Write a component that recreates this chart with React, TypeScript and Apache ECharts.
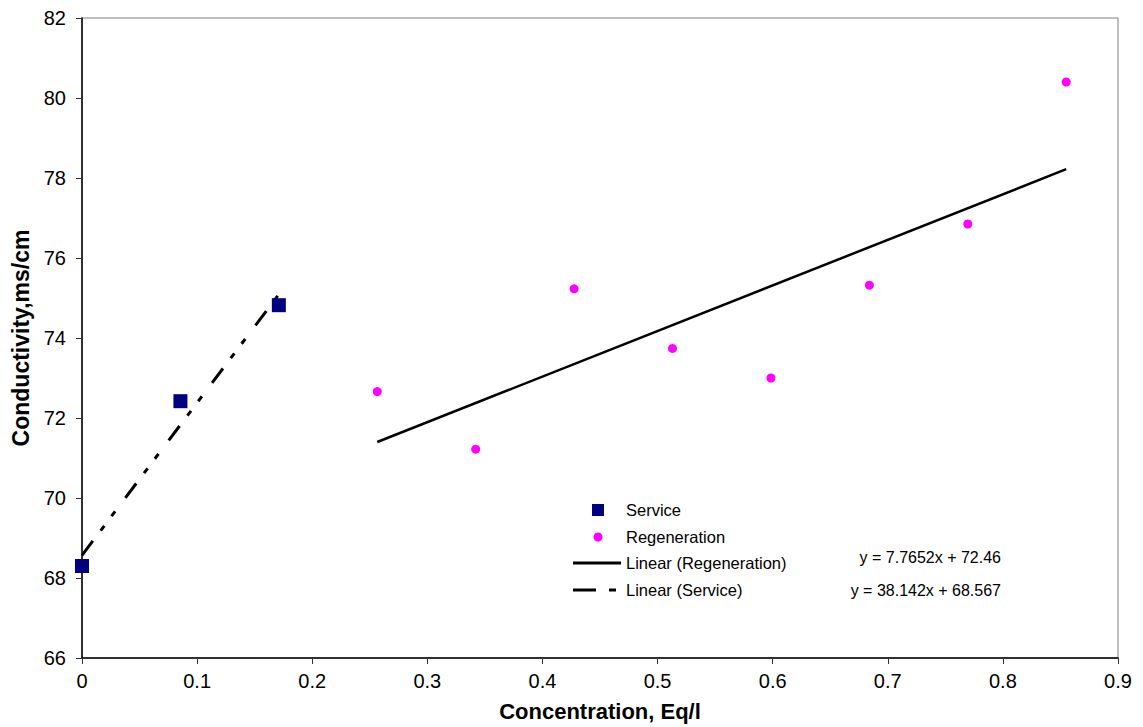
import React, { useEffect, useRef } from "react";
import * as echarts from "echarts";

// Data
const serviceX = [0, 0.0855, 0.171];
const serviceY = [68.3, 72.42, 74.82];

const regenX = [0.2565, 0.342, 0.4275, 0.513, 0.5985, 0.684, 0.7695, 0.855];
const regenY = [72.66, 71.22, 75.23, 73.74, 73.0, 75.32, 76.85, 80.4];

// Trend line end points (as drawn in the picture)
const regenTrendX = [0.2565, 0.855];
const regenTrendY = [71.4, 78.22];
const serviceTrendX = [0, 0.171];
const serviceTrendY = [68.567, 75.09];

const legendLabels = ["Service", "Regeneration", "Linear (Regeneration)", "Linear (Service)"];
const equations = ["y = 7.7652x + 72.46", "y = 38.142x + 68.567"];

const FONT = "Liberation Sans, Arial, sans-serif";

const zip = (xs: number[], ys: number[]) => xs.map((x, i) => [x, ys[i]]);

export default function App() {
  const ref = useRef<HTMLDivElement>(null);
  useEffect(() => {
    if (!ref.current) return;
    const chart = echarts.init(ref.current, null, { renderer: "svg" });
    const legX = 573;
    const rows = [510, 537, 563, 590];
    chart.setOption({
      animation: false,
      backgroundColor: "#ffffff",
      grid: {
        left: 82,
        right: 25,
        top: 18,
        bottom: 69,
        show: true,
        borderColor: "#808080",
        borderWidth: 1,
      },
      xAxis: {
        type: "value",
        min: 0,
        max: 0.9,
        interval: 0.1,
        name: "Concentration, Eq/l",
        nameLocation: "middle",
        nameGap: 42,
        nameTextStyle: { fontFamily: FONT, fontSize: 22, fontWeight: "bold", color: "#000" },
        axisLine: { show: true, lineStyle: { color: "#000", width: 1.5 } },
        axisTick: { show: true, length: 6, lineStyle: { color: "#333" } },
        axisLabel: {
          fontFamily: FONT,
          fontSize: 20,
          color: "#000",
          margin: 13,
          formatter: (v: number) => String(Math.round(v * 10) / 10),
        },
        splitLine: { show: false },
      },
      yAxis: {
        type: "value",
        min: 66,
        max: 82,
        interval: 2,
        name: "Conductivity,ms/cm",
        nameLocation: "middle",
        nameGap: 48,
        nameTextStyle: { fontFamily: FONT, fontSize: 23, fontWeight: "bold", color: "#000" },
        axisLine: { show: true, lineStyle: { color: "#000", width: 1.5 } },
        axisTick: { show: true, length: 6, lineStyle: { color: "#333" } },
        axisLabel: { fontFamily: FONT, fontSize: 20, color: "#000", margin: 16 },
        splitLine: { show: false },
      },
      series: [
        {
          name: "Linear (Regeneration)",
          type: "line",
          data: zip(regenTrendX, regenTrendY),
          showSymbol: false,
          lineStyle: { color: "#000", width: 2.5 },
          z: 2,
        },
        {
          name: "Linear (Service)",
          type: "line",
          data: zip(serviceTrendX, serviceTrendY),
          showSymbol: false,
          lineStyle: { color: "#000", width: 3, type: [18, 13, 6, 12, 6, 17], cap: "butt" },
          z: 2,
        },
        {
          name: "Service",
          type: "scatter",
          data: zip(serviceX, serviceY),
          symbol: "rect",
          symbolSize: 14,
          itemStyle: { color: "#000080", opacity: 1 },
          z: 3,
        },
        {
          name: "Regeneration",
          type: "scatter",
          data: zip(regenX, regenY),
          symbol: "circle",
          symbolSize: 9,
          itemStyle: { color: "#FF00FF", opacity: 1 },
          z: 3,
        },
      ],
      graphic: [
        { type: "rect", shape: { x: 592, y: rows[0] - 6, width: 12, height: 12 }, style: { fill: "#000080" } },
        { type: "circle", shape: { cx: 598, cy: rows[1], r: 4.5 }, style: { fill: "#FF00FF" } },
        { type: "line", shape: { x1: legX, y1: rows[2], x2: 621, y2: rows[2] }, style: { stroke: "#000", lineWidth: 3 } },
        { type: "line", shape: { x1: legX, y1: rows[3], x2: 596, y2: rows[3] }, style: { stroke: "#000", lineWidth: 3 } },
        { type: "line", shape: { x1: 609, y1: rows[3], x2: 616, y2: rows[3] }, style: { stroke: "#000", lineWidth: 3 } },
        ...legendLabels.map((t, i) => ({
          type: "text",
          x: 626,
          y: rows[i],
          style: { text: t, fontFamily: FONT, fontSize: 16.5, fill: "#000", verticalAlign: "middle", align: "left" },
        })),
        {
          type: "text",
          x: 1001,
          y: 557,
          style: { text: equations[0], fontFamily: FONT, fontSize: 16, fill: "#000", verticalAlign: "middle", align: "right" },
        },
        {
          type: "text",
          x: 1001,
          y: 590,
          style: { text: equations[1], fontFamily: FONT, fontSize: 16, fill: "#000", verticalAlign: "middle", align: "right" },
        },
      ],
    });
    return () => chart.dispose();
  }, []);
  return <div ref={ref} style={{ width: 1143, height: 727, position: "absolute", left: 0, top: 0 }} />;
}
